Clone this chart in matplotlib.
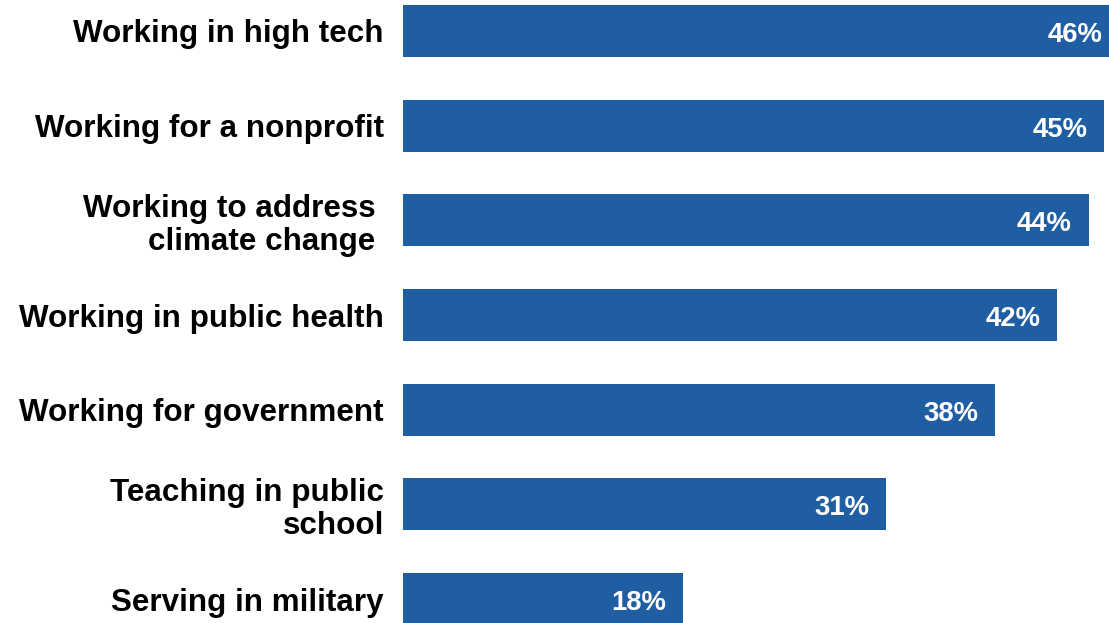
import matplotlib
matplotlib.use("Agg")
import matplotlib.pyplot as plt
from matplotlib.transforms import offset_copy

plt.rcParams['font.family'] = ['Liberation Sans', 'DejaVu Sans']

# share of respondents, top to bottom
categories = [
    "Working in high tech",
    "Working for a nonprofit",
    "Working to address \nclimate change ",
    "Working in public health",
    "Working for government",
    "Teaching in public\nschool",
    "Serving in military",
]
values = [46, 45, 44, 42, 38, 31, 18]
value_labels = ["46%", "45%", "44%", "42%", "38%", "31%", "18%"]

bar_color = "#1f5ea3"

fig = plt.figure(figsize=(11.09, 6.23), dpi=100)
ax = fig.add_axes([403 / 1109, 0, 1 - 403 / 1109, 1])

ypos = list(range(len(values)))
ax.barh(ypos, values, height=0.55, color=bar_color)

ax.set_xlim(0, 45.31)
ax.set_ylim(6.253, -0.327)

ax.set_yticks(ypos)
ax.set_yticklabels(categories, fontsize=22.6, fontweight='bold', ha='right',
                   linespacing=1.12)
ax.tick_params(axis='y', length=0, pad=13.7)
ax.set_xticks([])
for s in ax.spines.values():
    s.set_visible(False)

# value labels inside the bar ends
trans = offset_copy(ax.transData, fig=fig, x=-17, y=-1, units='dots')
for y, v, lab in zip(ypos, values, value_labels):
    ax.text(v, y, lab, transform=trans, ha='right', va='center_baseline',
            color='white', fontsize=19.8, fontweight='bold', clip_on=False)

fig.savefig("out.png", dpi=100)
